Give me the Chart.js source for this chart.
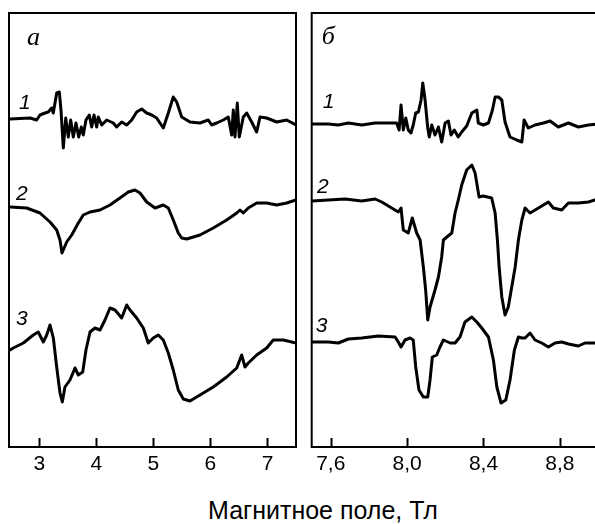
<!DOCTYPE html>
<html>
<head>
<meta charset="utf-8">
<script src="https://cdn.jsdelivr.net/npm/chart.js@4.4.1/dist/chart.umd.min.js"></script>
<style>
html, body { margin: 0; padding: 0; background: #fff; overflow: hidden; width: 595px; height: 524px; }
#left { position: absolute; left: 0; top: 0; }
#right { position: absolute; left: 300px; top: 0; }
#title { position: absolute; left: 0; top: 498px; width: 646px; text-align: center;
         font: 25px "Liberation Sans", Arial, sans-serif; line-height: 25px; color: #000; }
</style>
</head>
<body>
<canvas id="left" width="300" height="490"></canvas>
<canvas id="right" width="320" height="490"></canvas>
<div id="title">Магнитное поле, Тл</div>
<script>
// panel a: field (T) and signal (arb. units, curves offset)
var fieldA1 = [2.488,2.838,2.955,3.013,3.101,3.159,3.218,3.246,3.306,3.352,3.381,3.422,3.464,3.509,3.551,3.597,3.644,3.692,3.737,3.772,3.819,3.877,3.919,3.960,4.007,4.035,4.095,4.182,4.298,4.357,4.445,4.533,4.620,4.708,4.796,4.883,4.971,5.058,5.174,5.262,5.349,5.409,5.497,5.642,5.817,5.963,6.022,6.110,6.226,6.313,6.373,6.401,6.431,6.471,6.506,6.576,6.636,6.723,6.811,6.869,6.986,7.162,7.337,7.500];
var sigA1 = [32.8,32.9,32.7,33.2,33.4,33.5,33.9,33.4,35.4,35.5,33.7,29.9,32.9,31.0,32.7,31.0,32.4,31.0,32.0,31.2,32.7,33.2,32.0,33.2,32.0,33.0,32.2,32.7,32.4,32.0,32.5,32.2,32.7,33.5,33.8,33.4,33.2,32.9,31.9,33.4,35.0,34.5,33.0,32.5,32.4,32.7,32.2,32.4,32.7,33.0,31.2,33.7,31.0,34.4,31.0,33.0,33.4,32.5,31.5,33.0,32.9,32.5,32.7,32.2];

var fieldA2 = [2.488,2.780,3.013,3.189,3.306,3.364,3.399,3.481,3.569,3.685,3.772,3.890,4.065,4.240,4.415,4.561,4.678,4.766,4.883,5.029,5.174,5.262,5.349,5.437,5.497,5.584,5.817,6.050,6.285,6.461,6.518,6.576,6.664,6.811,6.986,7.162,7.337,7.500];
var sigA2 = [24.0,23.9,23.4,22.5,21.7,20.7,19.4,20.5,21.2,22.4,23.2,23.5,23.7,24.2,24.9,25.5,25.7,25.4,24.5,23.9,24.2,23.9,22.7,21.4,20.9,20.8,21.2,21.9,22.7,23.4,23.7,23.4,23.9,24.4,24.4,24.2,24.4,24.7];

var fieldA3 = [2.488,2.545,2.721,2.896,2.983,3.071,3.131,3.189,3.247,3.306,3.364,3.404,3.451,3.539,3.627,3.685,3.762,3.819,3.890,3.977,4.065,4.152,4.240,4.328,4.445,4.533,4.591,4.708,4.824,4.911,4.999,5.087,5.174,5.262,5.349,5.437,5.525,5.642,5.817,6.050,6.285,6.461,6.548,6.606,6.664,6.811,6.986,7.102,7.277,7.500];
var sigA3 = [9.7,9.9,10.4,11.2,11.5,10.5,11.2,12.2,10.9,8.0,5.4,4.5,6.0,6.7,7.9,7.2,7.5,9.7,11.5,11.9,11.7,12.7,13.9,13.7,12.9,14.2,13.7,12.9,11.9,10.4,10.9,11.2,10.7,9.4,7.7,5.7,4.8,4.6,5.2,6.0,7.0,7.9,9.2,8.0,8.4,9.2,9.9,10.7,10.7,10.4];

// panel б
var fieldB1 = [7.503,7.587,7.639,7.692,7.762,7.832,7.901,7.945,7.958,7.968,7.980,7.993,8.006,8.020,8.032,8.045,8.059,8.073,8.082,8.094,8.108,8.116,8.129,8.146,8.164,8.181,8.199,8.216,8.230,8.247,8.268,8.286,8.312,8.339,8.365,8.373,8.399,8.426,8.447,8.461,8.478,8.496,8.513,8.539,8.574,8.601,8.613,8.635,8.670,8.714,8.749,8.792,8.845,8.897,8.950,9.000];
var sigB1 = [32.3,32.3,32.2,32.4,32.2,32.4,32.4,32.4,31.7,34.2,31.7,32.9,31.7,31.4,32.2,33.4,33.5,34.7,36.4,34.7,31.9,31.0,32.2,31.2,32.0,30.5,32.4,32.6,31.2,31.7,31.0,31.5,32.1,33.4,33.7,32.4,32.2,32.4,33.7,35.0,35.0,34.7,32.5,31.0,30.7,30.5,32.7,31.9,32.2,32.4,32.6,32.0,32.4,32.0,32.2,32.3];

var fieldB2 = [7.503,7.587,7.675,7.762,7.832,7.867,7.919,7.954,7.968,7.980,8.006,8.027,8.050,8.068,8.085,8.097,8.108,8.120,8.146,8.164,8.181,8.190,8.208,8.234,8.251,8.268,8.286,8.312,8.339,8.356,8.377,8.399,8.443,8.461,8.473,8.482,8.496,8.513,8.530,8.548,8.566,8.583,8.601,8.618,8.644,8.688,8.740,8.766,8.810,8.845,8.897,8.950,9.000];
var sigB2 = [24.6,24.7,24.8,24.6,24.8,24.5,23.9,23.5,23.9,21.7,21.4,22.9,21.4,20.7,18.0,15.7,12.7,14.0,15.7,17.0,19.0,20.7,21.0,21.4,23.4,24.7,26.2,27.7,28.2,27.4,25.0,25.1,24.9,23.4,20.7,18.0,15.0,13.2,14.0,16.0,18.0,20.7,22.7,23.9,23.4,23.9,24.5,23.9,23.7,24.4,24.4,24.5,24.8];

var fieldB3 = [7.503,7.587,7.639,7.692,7.762,7.849,7.937,7.954,7.968,7.989,8.015,8.032,8.045,8.062,8.085,8.108,8.120,8.132,8.155,8.172,8.190,8.225,8.251,8.277,8.303,8.339,8.365,8.391,8.426,8.452,8.470,8.492,8.517,8.539,8.562,8.583,8.601,8.618,8.644,8.670,8.705,8.740,8.775,8.810,8.845,8.897,8.932,9.000];
var sigB3 = [10.5,10.5,10.4,10.8,10.9,11.1,11.0,10.5,10.0,10.7,10.9,10.7,8.0,5.7,5.0,5.0,6.7,9.0,9.2,10.0,10.7,10.4,10.4,11.0,12.5,13.0,12.5,11.9,11.0,8.7,6.0,4.4,4.7,6.7,9.7,11.0,10.9,10.9,11.4,10.7,10.4,10.0,10.4,10.5,10.3,10.1,10.4,10.4];

var ticksA = [3, 4, 5, 6, 7];
var tickLabelsA = ['3', '4', '5', '6', '7'];
var ticksB = [7.6, 8.0, 8.4, 8.8];
var tickLabelsB = ['7,6', '8,0', '8,4', '8,8'];

var FONT = '"Liberation Sans", Arial, sans-serif';

function pts(xs, ys) {
    return xs.map(function (x, i) { return { x: x, y: ys[i] }; });
}

function line(xs, ys) {
    return {
        data: pts(xs, ys),
        borderColor: '#000',
        borderWidth: 3,
        borderJoinStyle: 'round',
        borderCapStyle: 'round',
        pointRadius: 0,
        tension: 0,
        fill: false
    };
}

// box, inward ticks and the italic labels
var frame = {
    id: 'frame',
    afterDraw: function (chart, args, opts) {
        var ctx = chart.ctx, a = chart.chartArea, xs = chart.scales.x;
        ctx.save();
        ctx.strokeStyle = '#000';
        ctx.lineWidth = 2;
        ctx.strokeRect(a.left, a.top, a.right - a.left, a.bottom - a.top);
        xs.ticks.forEach(function (t) {
            var px = Math.round(xs.getPixelForValue(t.value)) + 0.5;
            ctx.beginPath();
            ctx.moveTo(px, a.bottom);
            ctx.lineTo(px, a.bottom - 9);
            ctx.stroke();
        });
        ctx.fillStyle = '#000';
        ctx.textBaseline = 'alphabetic';
        opts.labels.forEach(function (l) {
            ctx.font = l.font;
            ctx.fillText(l.t, a.left + l.dx, a.top + l.dy);
        });
        ctx.restore();
    }
};

function makeChart(id, sets, xmin, xmax, tickVals, tickText, pad, labels) {
    return new Chart(document.getElementById(id), {
        type: 'line',
        data: { datasets: sets },
        options: {
            responsive: false,
            animation: false,
            devicePixelRatio: 1,
            layout: { padding: pad },
            plugins: { legend: { display: false }, tooltip: { enabled: false }, frame: { labels: labels } },
            scales: {
                x: {
                    type: 'linear', min: xmin, max: xmax,
                    grid: { display: false, drawTicks: false },
                    border: { display: false },
                    afterBuildTicks: function (s) { s.ticks = tickVals.map(function (v) { return { value: v }; }); },
                    afterFit: function (s) { s.height = 490 - 447; },
                    ticks: {
                        autoSkip: false, maxRotation: 0, padding: 5, color: '#000',
                        font: { family: FONT, size: 21 },
                        callback: function (v, i) { return tickText[i]; }
                    }
                },
                y: { type: 'linear', min: 0, max: 43.4, display: false }
            }
        },
        plugins: [frame]
    });
}

var serif = 'italic 26px "Liberation Serif", "Times New Roman", serif';
var sans = 'italic 21px ' + FONT;

makeChart('left', [line(fieldA1, sigA1), line(fieldA2, sigA2), line(fieldA3, sigA3)],
    2.47, 7.5, ticksA, tickLabelsA, { left: 9, right: 4, top: 13, bottom: 0 },
    [{ t: 'a', dx: 18, dy: 32, font: serif },
     { t: '1', dx: 10, dy: 95.5, font: sans },
     { t: '2', dx: 7, dy: 187, font: sans },
     { t: '3', dx: 7, dy: 312, font: sans }]);

makeChart('right', [line(fieldB1, sigB1), line(fieldB2, sigB2), line(fieldB3, sigB3)],
    7.5, 9.0, ticksB, tickLabelsB, { left: 11.7, right: 22, top: 13, bottom: 0 },
    [{ t: 'б', dx: 10, dy: 31, font: serif },
     { t: '1', dx: 11, dy: 95.3, font: sans },
     { t: '2', dx: 5.3, dy: 180.3, font: sans },
     { t: '3', dx: 4, dy: 318.7, font: sans }]);
</script>
</body>
</html>
